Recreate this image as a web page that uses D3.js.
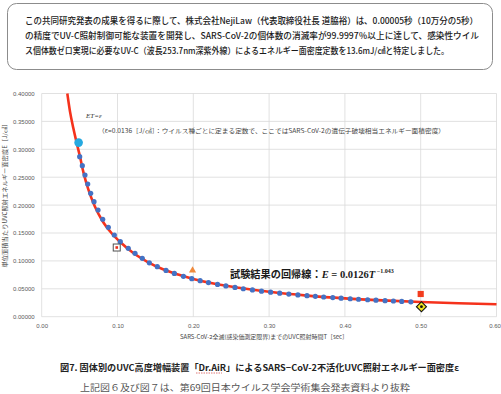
<!DOCTYPE html>
<html>
<head>
<meta charset="utf-8">
<script src="https://cdn.jsdelivr.net/npm/d3@7"></script>
<style>
  html, body { margin: 0; padding: 0; background: #fff; }
  svg { display: block; }
</style>
</head>
<body>
<svg id="chart" width="501" height="394"></svg>
<script>
// note text at the top
var noteLines = [
  "この共同研究発表の成果を得るに際して、株式会社NejiLaw（代表取締役社長 道脇裕）は、0.00005秒（10万分の5秒）",
  "の精度でUV-C照射制御可能な装置を開発し、SARS-CoV-2の個体数の消滅率が99.9997％以上に達して、感染性ウイル",
  "ス個体数ゼロ実現に必要なUV-C（波長253.7nm深紫外線）によるエネルギー面密度定数を13.6mJ/㎠と特定しました。"
];

var xTicks = [0, 0.1, 0.2, 0.3, 0.4, 0.5, 0.6];
var yTicks = [0, 0.05, 0.1, 0.15, 0.2, 0.25, 0.3, 0.35, 0.4];

// regression line
var fitT = [0.0338, 0.0373, 0.0417, 0.0462, 0.0505, 0.055, 0.0615, 0.07, 0.08, 0.092, 0.105, 0.12, 0.14,
            0.16, 0.18, 0.2, 0.23, 0.26, 0.3, 0.35, 0.4, 0.45, 0.5, 0.55, 0.6];
var fitE = [0.400, 0.368, 0.338, 0.311, 0.287, 0.259, 0.228, 0.198, 0.172, 0.150, 0.132, 0.115, 0.098,
            0.085, 0.0755, 0.0677, 0.0585, 0.0518, 0.0446, 0.0378, 0.0328, 0.0292, 0.0264, 0.0242, 0.0223];

// blue test points
var dotT = [0.0501, 0.0536, 0.0571, 0.0607, 0.0646, 0.0690, 0.0743, 0.0805, 0.0879, 0.0958, 0.1037, 0.1142,
            0.1231, 0.1327, 0.142, 0.1525, 0.164, 0.175, 0.187, 0.198, 0.209, 0.220, 0.232, 0.243, 0.255,
            0.266, 0.278, 0.290, 0.302, 0.314, 0.326, 0.338, 0.350, 0.361, 0.372, 0.384, 0.395, 0.407,
            0.418, 0.430, 0.441, 0.453, 0.464, 0.475, 0.487];
var dotE = [0.2867, 0.2706, 0.2539, 0.2378, 0.2211, 0.2061, 0.1912, 0.1746, 0.1602, 0.1464, 0.1344, 0.1226,
            0.1136, 0.1047, 0.0965, 0.0896, 0.0830, 0.0776, 0.0724, 0.0682, 0.0645, 0.0611, 0.0578, 0.0551,
            0.0524, 0.0501, 0.0479, 0.0458, 0.0439, 0.0422, 0.0406, 0.0391, 0.0377, 0.0365, 0.0353, 0.0342,
            0.0332, 0.0322, 0.0313, 0.0304, 0.0296, 0.0288, 0.0281, 0.0274, 0.0267];

// single markers [T, E]
var cyanPoint = [0.0487, 0.312];
var boxPoint = [0.099, 0.124];
var trianglePoint = [0.199, 0.083];
var redSquarePoint = [0.50, 0.0407];
var diamondPoint = [0.501, 0.018];

var svg = d3.select("#chart");
var jp = "'Noto Sans CJK JP', 'Noto Sans', sans-serif";
var serif = "'Liberation Serif', 'DejaVu Serif', serif";

// top note box
svg.append("rect")
  .attr("x", 7.5).attr("y", 3.5).attr("width", 485).attr("height", 66)
  .attr("rx", 9).attr("fill", "#fff").attr("stroke", "#8c8c8c").attr("stroke-width", 1);

var noteLen = [453, 454, 424];
svg.selectAll(".note").data(noteLines).enter().append("text")
  .attr("class", "note")
  .attr("x", 25).attr("y", function(d, i) { return 24 + i * 15; })
  .attr("textLength", function(d, i) { return noteLen[i]; })
  .attr("lengthAdjust", "spacingAndGlyphs")
  .style("font-family", jp).style("font-size", "8.6px").style("font-weight", 500)
  .attr("fill", "#1a1a1a")
  .text(function(d) { return d; });

// scales
var x = d3.scaleLinear().domain([0, 0.6]).range([41.7, 496.5]);
var y = d3.scaleLinear().domain([0, 0.4]).range([316.7, 93.5]);

var g = svg.append("g");

// grid
g.selectAll(".hgrid").data(yTicks).enter().append("line")
  .attr("x1", x(0)).attr("x2", x(0.6))
  .attr("y1", function(d) { return y(d); }).attr("y2", function(d) { return y(d); })
  .attr("stroke", "#d9d9d9").attr("stroke-width", 0.8);
g.selectAll(".vgrid").data(xTicks).enter().append("line")
  .attr("x1", function(d) { return x(d); }).attr("x2", function(d) { return x(d); })
  .attr("y1", y(0)).attr("y2", y(0.4))
  .attr("stroke", "#d9d9d9").attr("stroke-width", 0.8);

// axes (labels only)
var xAxis = g.append("g").attr("transform", "translate(0," + y(0) + ")")
  .call(d3.axisBottom(x).tickValues(xTicks).tickSize(0).tickPadding(7).tickFormat(d3.format(".2f")));
var yAxis = g.append("g").attr("transform", "translate(" + x(0) + ",0)")
  .call(d3.axisLeft(y).tickValues(yTicks).tickSize(0).tickPadding(7).tickFormat(d3.format(".5f")));
[xAxis, yAxis].forEach(function(a) {
  a.select(".domain").remove();
  a.selectAll("text").attr("fill", "#595959")
    .style("font-family", "'Liberation Sans', Arial, sans-serif").style("font-size", "6px");
});
// last x label sits at the right edge; pull it in a touch
xAxis.selectAll(".tick text").filter(function(d) { return d === 0.6; }).attr("dx", -2);

// regression curve
var line = d3.line()
  .x(function(d) { return x(d[0]); })
  .y(function(d) { return y(d[1]); })
  .curve(d3.curveMonotoneX);
g.append("path")
  .datum(d3.zip(fitT, fitE))
  .attr("fill", "none").attr("stroke", "#f5321c").attr("stroke-width", 2.6)
  .attr("d", line);

// blue dots
g.selectAll(".dot").data(d3.zip(dotT, dotE)).enter().append("circle")
  .attr("cx", function(d) { return x(d[0]); }).attr("cy", function(d) { return y(d[1]); })
  .attr("r", 2.6).attr("fill", "#4472c4");

// cyan point
g.append("circle")
  .attr("cx", x(cyanPoint[0])).attr("cy", y(cyanPoint[1]))
  .attr("r", 4.3).attr("fill", "#25a9e0");

// open square with red centre
g.append("rect")
  .attr("x", x(boxPoint[0]) - 3.5).attr("y", y(boxPoint[1]) - 3.5)
  .attr("width", 7).attr("height", 7)
  .attr("fill", "#fff").attr("stroke", "#505050").attr("stroke-width", 1);
g.append("rect")
  .attr("x", x(boxPoint[0]) - 1.3).attr("y", y(boxPoint[1]) - 1.3)
  .attr("width", 2.6).attr("height", 2.6).attr("fill", "#e8321e");

// orange triangle
g.append("path")
  .attr("transform", "translate(" + x(trianglePoint[0]) + "," + y(trianglePoint[1]) + ")")
  .attr("d", d3.symbol().type(d3.symbolTriangle).size(22)())
  .attr("fill", "#f08a3c");

// red square
g.append("path")
  .attr("transform", "translate(" + x(redSquarePoint[0]) + "," + y(redSquarePoint[1]) + ")")
  .attr("d", d3.symbol().type(d3.symbolSquare).size(38)())
  .attr("fill", "#f23c1e");

// yellow diamond
g.append("path")
  .attr("transform", "translate(" + x(diamondPoint[0]) + "," + y(diamondPoint[1]) + ") rotate(45)")
  .attr("d", d3.symbol().type(d3.symbolSquare).size(50)())
  .attr("fill", "#f2e41e").attr("stroke", "#111").attr("stroke-width", 1.1);
g.append("circle")
  .attr("cx", x(diamondPoint[0])).attr("cy", y(diamondPoint[1]))
  .attr("r", 1.4).attr("fill", "#111");

// annotations
svg.append("text").attr("x", 86).attr("y", 118)
  .style("font-family", serif).style("font-style", "italic").style("font-size", "7px")
  .attr("fill", "#333").text("ET=ε");
svg.append("text").attr("x", 98).attr("y", 133)
  .attr("textLength", 347).attr("lengthAdjust", "spacingAndGlyphs")
  .style("font-family", jp).style("font-size", "6px").attr("fill", "#444")
  .text("（ε=0.0136［J/㎠］：ウイルス種ごとに定まる定数で、ここではSARS-CoV-2の遺伝子破壊相当エネルギー面積密度）");

var reg = svg.append("text").attr("x", 230).attr("y", 277.5).attr("fill", "#1a1a1a");
reg.append("tspan").style("font-family", jp).style("font-weight", 700).style("font-size", "10.2px")
  .text("試験結果の回帰線：");
reg.append("tspan").style("font-family", serif).style("font-weight", 700).style("font-style", "italic")
  .style("font-size", "10.5px").text("E");
reg.append("tspan").style("font-family", serif).style("font-weight", 700)
  .style("font-size", "10.5px").text(" = 0.0126");
reg.append("tspan").style("font-family", serif).style("font-weight", 700).style("font-style", "italic")
  .style("font-size", "10.5px").text("T");
reg.append("tspan").attr("dy", -5).style("font-family", serif).style("font-weight", 700)
  .style("font-size", "6px").text(" −1.043");

// axis titles
svg.append("text").attr("x", 264).attr("y", 338.5).attr("text-anchor", "middle")
  .attr("textLength", 168).attr("lengthAdjust", "spacingAndGlyphs")
  .style("font-family", jp).style("font-size", "5.6px").attr("fill", "#444")
  .text("SARS-CoV-2全滅(感染価測定限界)までのUVC照射時間T［sec］");
svg.append("text")
  .attr("transform", "translate(7,194) rotate(-90)").attr("text-anchor", "middle")
  .attr("textLength", 147).attr("lengthAdjust", "spacingAndGlyphs")
  .style("font-family", jp).style("font-size", "5.6px").attr("fill", "#444")
  .text("単位面積当たりUVC照射エネルギー面密度E［J/㎠］");

// caption
svg.append("text").attr("x", 60).attr("y", 371)
  .attr("textLength", 399).attr("lengthAdjust", "spacingAndGlyphs")
  .style("font-family", jp).style("font-weight", 700).style("font-size", "8.6px").attr("fill", "#222")
  .text("図7. 固体別のUVC高度増幅装置「Dr.AiR」によるSARS−CoV-2不活化UVC照射エネルギー面密度ε");
svg.append("line")
  .attr("x1", 196).attr("x2", 222).attr("y1", 373).attr("y2", 373)
  .attr("stroke", "#d04040").attr("stroke-width", 0.7).attr("stroke-dasharray", "1.5,1");

svg.append("text").attr("x", 80).attr("y", 391)
  .attr("textLength", 330).attr("lengthAdjust", "spacingAndGlyphs")
  .style("font-family", jp).style("font-size", "8.6px").attr("fill", "#555")
  .text("上記図６及び図７は、第69回日本ウイルス学会学術集会発表資料より抜粋");
</script>
</body>
</html>
